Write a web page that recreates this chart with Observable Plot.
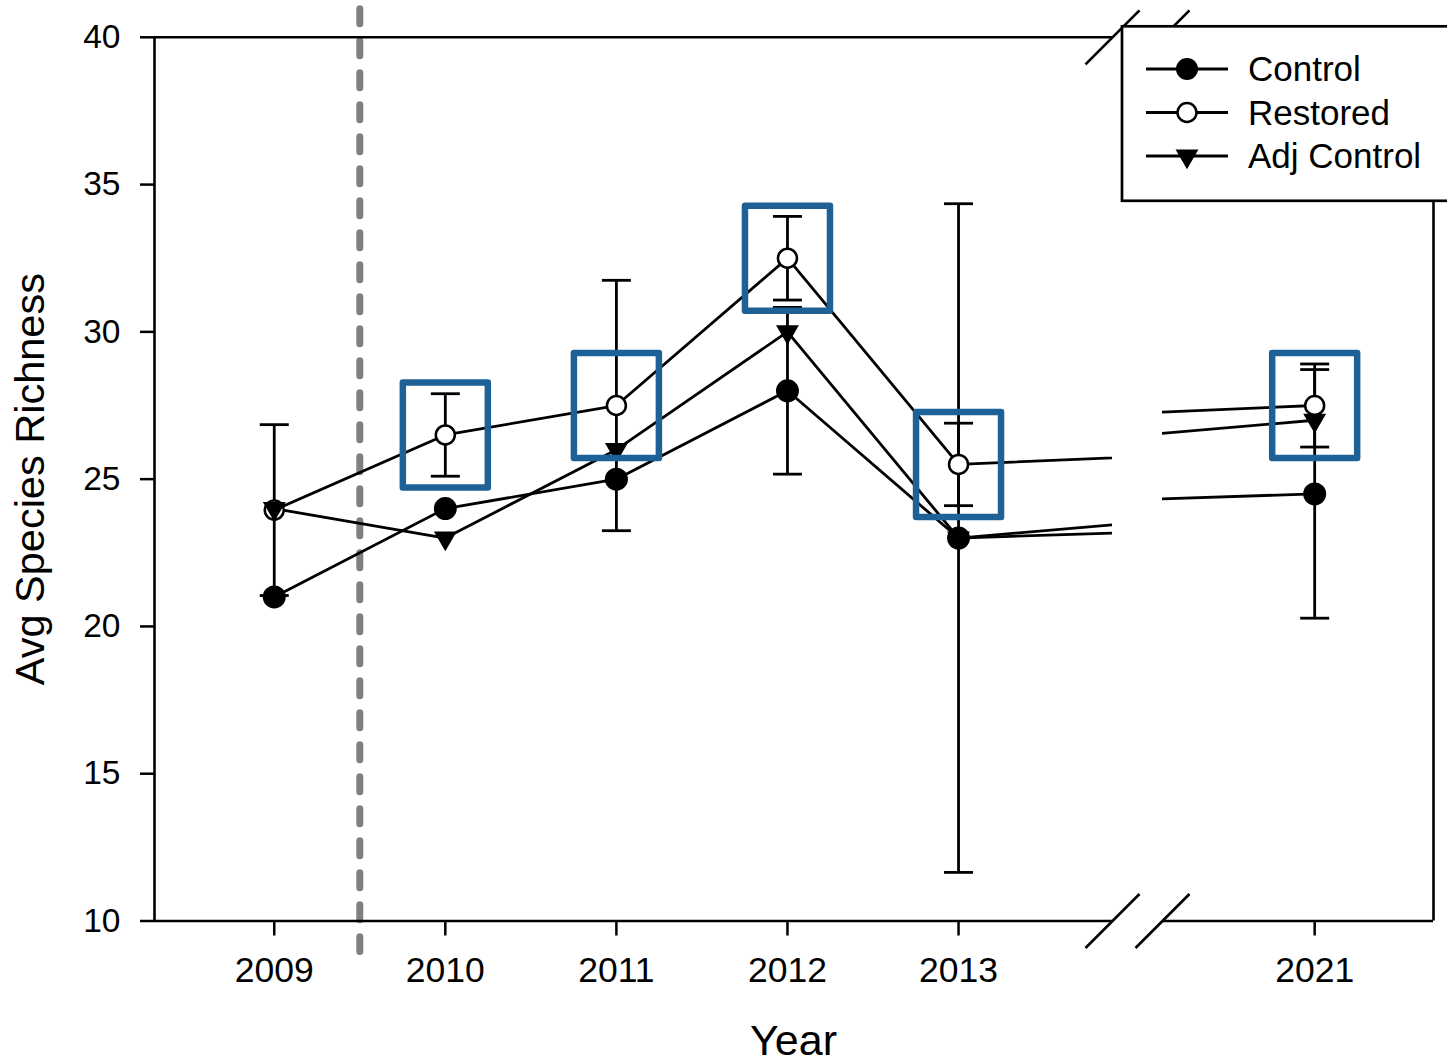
<!DOCTYPE html>
<html><head><meta charset="utf-8">
<script src="https://cdn.jsdelivr.net/npm/d3@7"></script>
<script src="https://cdn.jsdelivr.net/npm/@observablehq/plot@0.6"></script>
<style>
body{margin:0;background:#fff;}
#wrap{position:relative;width:1447px;height:1064px;overflow:hidden;background:#fff;}
#wrap svg{position:absolute;left:0;top:0;}
</style></head><body><div id="wrap"></div>
<script>
// ---- data ----
const years = [2009, 2010, 2011, 2012, 2013, 2021];
const xTickLabels = ["2009", "2010", "2011", "2012", "2013", "2021"];
const yTicks = [10, 15, 20, 25, 30, 35, 40];
const seriesNames = ["Control", "Restored", "Adj Control"];
const control = [21, 24, 25, 28, 23, 24.5];
const controlErr = [null, null, null, 2.83, 11.35, 4.22];
const restored = [23.95, 26.5, 27.5, 32.5, 25.5, 27.5];
const restoredErr = [2.9, 1.4, 4.25, 1.42, 1.4, 1.41];
const adjControl = [24, 23, 26, 30, 23, 27];
const highlightYears = [2010, 2011, 2012, 2013, 2021];
const treatmentStart = 2009.5;

// ---- layout ----
const W = 1447, H = 1064;
const yDomain = [10, 40];
const frameTop = 36.8, frameBottom = 920.5;
const leftDomain = [2008.3, 2013.9], leftRange = [154, 1112];
const rightDomain = [2020.11, 2021.695], rightRange = [1162, 1433];
const FONT = "'Liberation Sans', Arial, sans-serif";
const boxBlue = "#1e6196";

const table = years.flatMap((yr, i) => [
  {series: seriesNames[0], year: yr, value: control[i], err: controlErr[i]},
  {series: seriesNames[1], year: yr, value: restored[i], err: restoredErr[i]},
  {series: seriesNames[2], year: yr, value: adjControl[i], err: null}
]);

const capSymbol = {draw(ctx) { ctx.moveTo(-14.5, 0); ctx.lineTo(14.5, 0); }};
const boxSymbol = {draw(ctx) { ctx.rect(-42.5, -52.5, 85, 105); }};
const slashSymbol = {draw(ctx) { ctx.moveTo(-27, 27); ctx.lineTo(27, -27); }};

function panel(domain, range, isLeft) {
  const inDom = d => d.year >= domain[0] && d.year <= domain[1];
  const pts = table.filter(inDom);
  const errs = pts.filter(d => d.err != null);
  const boxes = pts.filter(d => d.series === "Restored" && highlightYears.includes(d.year));
  const ticks = years.filter(y => y >= domain[0] && y <= domain[1]);
  const breakX = isLeft ? domain[1] : domain[0];
  const marks = [];
  if (isLeft) {
    marks.push(
      Plot.ruleX([treatmentStart], {y1: 40.95, y2: 8.95, stroke: "#808080", strokeWidth: 7,
        strokeDasharray: "15,17", strokeLinecap: "round"}),
      Plot.axisY({ticks: yTicks, tickSize: 14, tickPadding: 20, fontSize: 33.5, strokeWidth: 2.5, stroke: "#000", fill: "#000", label: null}),
      Plot.ruleX([domain[0]], {stroke: "#000", strokeWidth: 2.6}),
      Plot.text(["Avg Species Richness"], {frameAnchor: "left", textAnchor: "middle", lineAnchor: "middle", dx: -124, rotate: -90, fontSize: 41.5, fill: "#000"}),
      Plot.text(["Year"], {frameAnchor: "bottom", textAnchor: "middle", lineAnchor: "middle", dx: 793 - (range[0] + range[1]) / 2, dy: 120, fontSize: 43, fill: "#000"})
    );
  } else {
    marks.push(Plot.ruleX([domain[1]], {stroke: "#000", strokeWidth: 2.6}));
  }
  marks.push(
    Plot.ruleY(yDomain, {stroke: "#000", strokeWidth: 2.6}),
    Plot.axisX({ticks, tickFormat: d => xTickLabels[years.indexOf(d)], tickSize: 15, tickPadding: 21,
      fontSize: 35.5, strokeWidth: 2.5, stroke: "#000", fill: "#000", label: null}),
    Plot.dot(yDomain.map(v => ({x: breakX, y: v})), {x: "x", y: "y", symbol: slashSymbol, fill: "none", stroke: "#000", strokeWidth: 2.6}),
    Plot.line(table, {x: "year", y: "value", z: "series", stroke: "#000", strokeWidth: 2.8, clip: true}),
    Plot.ruleX(errs, {x: "year", y1: d => d.value - d.err, y2: d => d.value + d.err, stroke: "#000", strokeWidth: 2.8}),
    Plot.dot(errs, {x: "year", y: d => d.value - d.err, symbol: capSymbol, fill: "none", stroke: "#000", strokeWidth: 2.8}),
    Plot.dot(errs, {x: "year", y: d => d.value + d.err, symbol: capSymbol, fill: "none", stroke: "#000", strokeWidth: 2.8}),
    Plot.dot(pts.filter(d => d.series === "Control"), {x: "year", y: "value", r: 11.5, fill: "#000", stroke: "none"}),
    Plot.dot(pts.filter(d => d.series === "Restored"), {x: "year", y: "value", r: 9.5, fill: "#fff", stroke: "#000", strokeWidth: 2.5}),
    Plot.dot(pts.filter(d => d.series === "Adj Control"), {x: "year", y: "value", symbol: "triangle", rotate: 180, r: 8.5, fill: "#000", stroke: "none"}),
    Plot.dot(boxes, {x: "year", y: "value", symbol: boxSymbol, fill: "none", stroke: boxBlue, strokeWidth: 6.5, strokeLinejoin: "round"})
  );
  return Plot.plot({
    width: W, height: H,
    marginLeft: range[0], marginRight: W - range[1],
    marginTop: frameTop, marginBottom: H - frameBottom,
    x: {type: "linear", domain, axis: null},
    y: {type: "linear", domain: yDomain, axis: null},
    style: {fontFamily: FONT, background: isLeft ? "#fff" : "transparent", color: "#000", overflow: "visible"},
    marks
  });
}

const wrap = document.getElementById("wrap");
wrap.appendChild(panel(leftDomain, leftRange, true));
wrap.appendChild(panel(rightDomain, rightRange, false));

// ---- legend ----
const lg = d3.create("svg").attr("width", W).attr("height", H).style("font-family", FONT);
lg.append("rect").attr("x", 1122).attr("y", 26.3).attr("width", 400).attr("height", 174.5)
  .attr("fill", "#fff").attr("stroke", "#000").attr("stroke-width", 2.7);
seriesNames.forEach((name, i) => {
  const y = 69 + i * 43.5;
  const g = lg.append("g");
  g.append("line").attr("x1", 1146).attr("x2", 1228).attr("y1", y).attr("y2", y)
    .attr("stroke", "#000").attr("stroke-width", 2.8);
  const sym = g.append("path").attr("transform", `translate(1187,${y})` + (i === 2 ? " rotate(180)" : ""));
  if (i === 0) sym.attr("d", d3.symbol(d3.symbolCircle, Math.PI * 121)()).attr("fill", "#000");
  if (i === 1) sym.attr("d", d3.symbol(d3.symbolCircle, Math.PI * 90)()).attr("fill", "#fff").attr("stroke", "#000").attr("stroke-width", 2.5);
  if (i === 2) sym.attr("d", d3.symbol(d3.symbolTriangle, Math.PI * 8.5 * 8.5)()).attr("fill", "#000");
  g.append("text").attr("x", 1248).attr("y", y).attr("dy", "0.35em").attr("font-size", 35).attr("fill", "#000").text(name);
});
wrap.appendChild(lg.node());
</script></body></html>
